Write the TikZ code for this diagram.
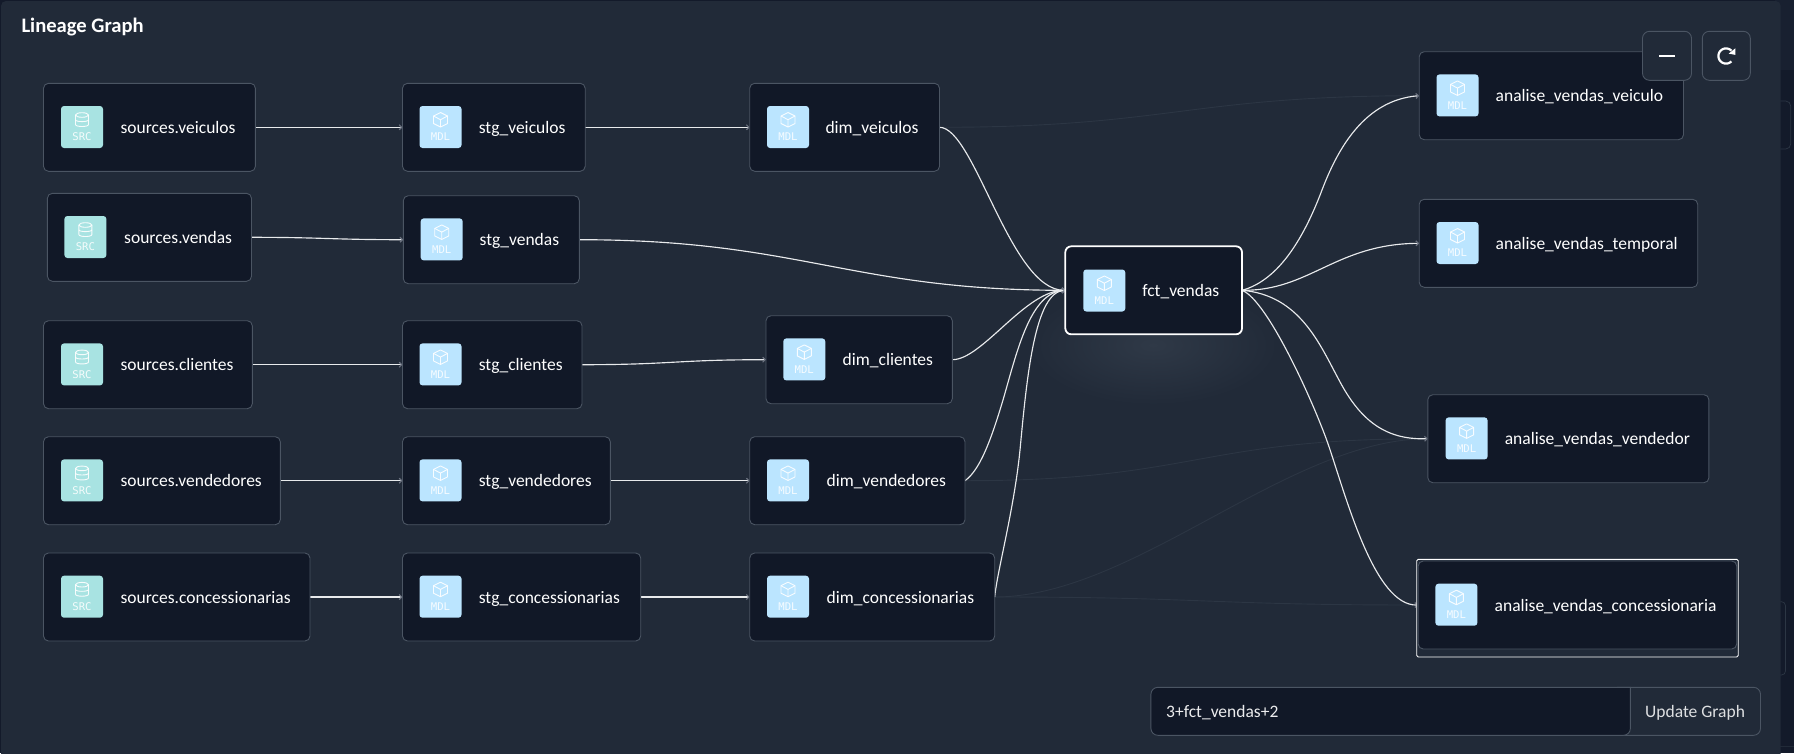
\documentclass[tikz,border=0pt]{standalone}
\usepackage{fontspec}
\setmainfont{Carlito}
\newfontfamily\iconfont{DejaVu Sans Mono}
\usetikzlibrary{arrows.meta,backgrounds}
\definecolor{pagebg}{HTML}{131A2A}
\definecolor{pagetop}{HTML}{182030}
\definecolor{panel}{HTML}{212A38}
\definecolor{cardbg}{HTML}{111827}
\definecolor{cardline}{HTML}{4B5563}
\definecolor{srcbg}{HTML}{A8E3E2}
\definecolor{mdlbg}{HTML}{BBE5FF}
\definecolor{faint}{HTML}{2C3644}
\definecolor{glow}{HTML}{2F3947}
\definecolor{edgec}{HTML}{E8EAEC}
\definecolor{tipc}{HTML}{6B7280}
\tikzset{
  cardbox/.style={draw=cardline,fill=cardbg,rounded corners=5pt,line width=0.9pt,minimum height=88pt,inner sep=0pt,outer sep=0pt},
  cardtext/.style={anchor=base west,inner sep=0pt,outer sep=0pt,text=white,font=\fontsize{17.5}{20}\selectfont},
  iconbox/.style={rounded corners=3pt,minimum size=42pt,inner sep=0pt,outer sep=0pt},
  icontext/.style={inner sep=0pt,outer sep=0pt,text=white,opacity=.88,font=\iconfont\fontsize{10.6}{12}\selectfont},
  iconline/.style={draw=white,opacity=.9,line width=0.9pt,line join=round},
  srcicon/.pic={
    \node[iconbox,fill=srcbg] (-box) at (0,0) {};
    \draw[iconline] (-6.5,-12) -- (-6.5,-2.5) .. controls (-6.5,0.2) and (6.5,0.2) .. (6.5,-2.5) -- (6.5,-12);
    \draw[iconline] (0,-12) ellipse [x radius=6.5pt,y radius=2.3pt];
    \draw[iconline] (-6.5,-7.2) .. controls (-6.5,-4.8) and (6.5,-4.8) .. (6.5,-7.2);
    \node[icontext] (-lab) at (0,10) {SRC};
  },
  mdlicon/.pic={
    \node[iconbox,fill=mdlbg] (-box) at (0,0) {};
    \draw[iconline] (0,-14.5) -- (7,-11) -- (7,-3.5) -- (0,0) -- (-7,-3.5) -- (-7,-11) -- cycle;
    \draw[iconline] (-7,-11) -- (0,-7.3) -- (7,-11) (0,-7.3) -- (0,0);
    \node[icontext] (-lab) at (0,10) {MDL};
  },
  uiline/.style={draw=cardline,line width=0.9pt},
  linkline/.style={draw=edgec,line width=1.15pt,-{Straight Barb[length=2.5pt,width=5pt,color=tipc]}},
  linkfaint/.style={draw=faint,line width=0.9pt},
}
\newcommand{\cardnode}[8]{%
  \pgfmathsetmacro\cardx{(#2+#3)/2}%
  \pgfmathsetmacro\cardy{#4+44}%
  \pgfmathsetmacro\cardw{#3-#2}%
  \pgfmathsetmacro\cardi{#4+43.7}%
  \pgfmathsetmacro\cardb{#4+50.1}%
  \node[cardbox,minimum width=\cardw pt] (#1) at (\cardx,\cardy) {};
  \pic (#1ic) at (#6,\cardi) {#5icon};
  \node[cardtext] (#1t) at (#7,\cardb) {#8};
}
\begin{document}
\begin{tikzpicture}[x=1pt,y=-1pt]
\useasboundingbox (0,0) rectangle (1794,753);
% selection frame
\node[draw=white,fill=panel,line width=0.9pt,rounded corners=1.5pt,minimum width=321.5pt,minimum height=97.7pt,inner sep=0pt,outer sep=0pt] (selframe) at (1577.45,608.15) {};
% row 1
\cardnode{sv}{43.5}{255.4}{83.3}{src}{82}{120.6}{sources.veiculos}
\cardnode{stv}{402.5}{585.2}{83.3}{mdl}{440.5}{478.8}{stg\_veiculos}
\cardnode{dv}{749.7}{939.5}{83.3}{mdl}{788}{825.5}{dim\_veiculos}
% row 2
\cardnode{sd}{47.4}{251.5}{193.3}{src}{85.4}{124.2}{sources.vendas}
\cardnode{std}{403.3}{579.3}{195.7}{mdl}{441.7}{479.6}{stg\_vendas}
% row 3
\cardnode{sc}{43.5}{252.3}{320.7}{src}{82}{120.6}{sources.clientes}
\cardnode{stc}{402.5}{582}{320.7}{mdl}{440.5}{478.8}{stg\_clientes}
\cardnode{dc}{766}{952.3}{315.7}{mdl}{804.3}{842.7}{dim\_clientes}
% row 4
\cardnode{se}{43.5}{280.3}{436.7}{src}{82}{120.6}{sources.vendedores}
\cardnode{ste}{402.5}{610.3}{436.7}{mdl}{440.5}{478.8}{stg\_vendedores}
\cardnode{de}{749.7}{965}{436.7}{mdl}{788}{826.7}{dim\_vendedores}
% row 5
\cardnode{so}{43.5}{310}{553}{src}{82}{120.6}{sources.concessionarias}
\cardnode{sto}{402.5}{640.7}{553}{mdl}{440.5}{478.8}{stg\_concessionarias}
\cardnode{do}{749.7}{994.7}{553}{mdl}{788}{826.7}{dim\_concessionarias}
% right column
\cardnode{av}{1419.2}{1683.5}{51.7}{mdl}{1457.5}{1495.7}{analise\_vendas\_veiculo}
\cardnode{at}{1419.2}{1697.7}{199.3}{mdl}{1457.5}{1495.7}{analise\_vendas\_temporal}
\cardnode{ae}{1427.8}{1708.9}{394.7}{mdl}{1466.6}{1504.8}{analise\_vendas\_vendedor}
\cardnode{ao}{1418.2}{1736.7}{561}{mdl}{1456.4}{1494.7}{analise\_vendas\_concessionaria}
% centre
\node[cardbox,draw=white,line width=1.8pt,rounded corners=6pt,minimum width=176.7pt] (fct) at (1153.65,290.3) {};
\pic (fctic) at (1104.3,290.5) {mdlicon};
\node[cardtext] (fctt) at (1142.3,296.3) {fct\_vendas};
% title
\node[anchor=base west,inner sep=0,text=white,font=\bfseries\fontsize{20.6}{24}\selectfont] (title) at (21.3,32.5) {Lineage Graph};
% buttons
\node[uiline,fill=panel,rounded corners=7pt,minimum width=49pt,minimum height=49pt,inner sep=0pt,outer sep=0pt] (minusbtn) at (1667,55.8) {};
\node[uiline,fill=panel,rounded corners=7pt,minimum width=48pt,minimum height=49pt,inner sep=0pt,outer sep=0pt] (refreshbtn) at (1726.3,55.8) {};
\coordinate (minusl) at (1659.3,55.8);
\coordinate (minusr) at (1675,55.8);
\draw[white,line width=2.2pt] (minusl) -- (minusr);
\draw[white,line width=2.2pt] plot[smooth,domain=-45:-315,samples=30,variable=\a] ({1726+7.6*cos(\a)},{56+7.6*sin(\a)});
\fill[white] (1735.3,48.3) -- (1735.3,54.9) -- (1728.7,53.6) -- cycle;
% input bar
\node[uiline,fill=panel,rounded corners=7pt,minimum width=150pt,minimum height=48pt,inner sep=0pt,outer sep=0pt] (updatebtn) at (1685.5,711.3) {};
\draw[uiline,fill=cardbg,rounded corners=7pt] (1630.4,687.3) -- (1150.9,687.3) -- (1150.9,735.3) -- (1630.4,735.3) [sharp corners] -- cycle;
\node[anchor=base west,inner sep=0,text=white,opacity=.92,font=\fontsize{17.5}{20}\selectfont] (inputtext) at (1166,717) {3+fct\_vendas+2};
\node[anchor=base west,inner sep=0,text=white,opacity=.85,font=\fontsize{17.5}{20}\selectfont] (updatetext) at (1645,717) {Update Graph};
\begin{scope}[on background layer]
  \fill[pagebg] (0,0) rectangle (1794,753);
  \fill[pagetop] (1775,0) rectangle (1794,70);
  \draw[faint,line width=0.7pt,rounded corners=5pt] (1775,101) -- (1790.7,101) -- (1790.7,149) -- (1775,149);
  \draw[faint,line width=0.7pt,rounded corners=4pt] (1775,601.7) -- (1785.5,601.7) -- (1785.5,675) -- (1775,675);
  \draw[panel,line width=0.8pt] (1775,746) -- (1794,746);
  \fill[panel,rounded corners=5pt] (1,1) -- (1780.7,1) -- (1780.7,760) -- (1,760) -- cycle;
  \shade[inner color=glow,outer color=panel] (1153,345) ellipse [x radius=125pt,y radius=60pt];
  % faint links
  \draw[linkfaint] (dv.east) .. controls +(230,0) and +(-230,0) .. (av.west);
  \draw[linkfaint] (de.east) .. controls +(230,0) and +(-230,0) .. (ae.west);
  \draw[linkfaint] (do.east) .. controls +(140,0) and +(-140,0) .. (ae.west);
  \draw[linkfaint] (do.east) .. controls +(210,0) and +(-210,0) .. (ao.west);
  % straight links
  \draw[linkline] (sv.east) -- (stv.west);
  \draw[linkline] (stv.east) -- (dv.west);
  \draw[linkline] (sd.east) .. controls +(70,0) and +(-70,0) .. (std.west);
  \draw[linkline] (sc.east) -- (stc.west);
  \draw[linkline] (stc.east) .. controls +(90,0) and +(-90,0) .. (dc.west);
  \draw[linkline] (se.east) -- (ste.west);
  \draw[linkline] (ste.east) -- (de.west);
  \draw[linkline] (so.east) -- (sto.west);
  \draw[linkline] (sto.east) -- (do.west);
  % links into fct
  \draw[linkline] (std.east) .. controls +(221,0) and +(-215,0) .. (fct.west);
  \draw[linkline] (dv.east) .. controls +(35,0) and +(-55,0) .. (fct.west);
  \draw[linkline] (dc.east) .. controls +(30,0) and +(-40,0) .. (fct.west);
  \draw[linkline] (de.east) .. controls (980,470) and (991,440) .. (1003,400) .. controls (1017,352) and (1030,292) .. (fct.west);
  \draw[linkline] (do.east) .. controls (997,572) and (1014,510) .. (1020,450) .. controls (1027,375) and (1035,292) .. (fct.west);
  % links out of fct
  \draw[linkline] (fct.east) .. controls (1280,280) and (1305,235) .. (1322,190) .. controls (1338,148) and (1365,100) .. (av.west);
  \draw[linkline] (fct.east) .. controls (1310,291) and (1335,244) .. (at.west);
  \draw[linkline] (fct.east) .. controls (1300,295) and (1320,345) .. (1339,380) .. controls (1360,420) and (1385,440) .. (ae.west);
  \draw[linkline] (fct.east) .. controls (1268,300) and (1316,408) .. (1329,446.7) .. controls (1347,500) and (1375,606) .. (ao.west);
\end{scope}
\end{tikzpicture}
\end{document}
